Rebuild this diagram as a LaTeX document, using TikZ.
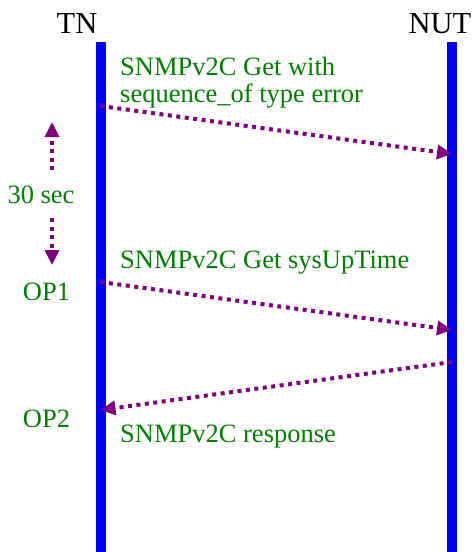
\documentclass[tikz,border=0pt]{standalone}
\usepackage{fontspec}
\setmainfont{Liberation Serif}
\usetikzlibrary{arrows.meta}
\definecolor{msgpurple}{RGB}{128,0,128}
\definecolor{lblgreen}{RGB}{0,128,0}
\definecolor{lifeblue}{RGB}{0,0,255}
\tikzset{
  header/.style={inner sep=0pt, anchor=base, font=\fontsize{30.5}{36}\selectfont},
  lbl/.style={inner sep=0pt, text=lblgreen, font=\fontsize{26.5}{30}\selectfont},
  lifeline/.style={draw=lifeblue, line width=10pt},
  msg/.style={draw=msgpurple, line width=4pt, dash pattern=on 4pt off 4.5pt,
    -{Triangle[length=15pt,width=14pt,fill=msgpurple]}},
  waitarrow/.style={draw=msgpurple, line width=4pt, dash pattern=on 4pt off 4.5pt,
    -{Triangle[length=15pt,width=14pt,fill=msgpurple]}}
}
\begin{document}
\begin{tikzpicture}[x=1pt,y=-1pt]
\useasboundingbox (0,0) rectangle (473,552);

% participants
\node[header] (tn) at (77,33) {TN};
\node[header] (nut) at (440,33) {NUT};

% lifelines
\coordinate (tntop) at (100.5,42);
\coordinate (tnbot) at (100.5,552);
\coordinate (nuttop) at (452,42);
\coordinate (nutbot) at (452,552);
\draw[lifeline] (tntop) -- (tnbot);
\draw[lifeline] (nuttop) -- (nutbot);

% message end points on the lifelines
\coordinate (m1s) at (100.5,106);
\coordinate (m1e) at (452,154);
\coordinate (m2s) at (100.5,282);
\coordinate (m2e) at (452,330);
\coordinate (m3s) at (452,362);
\coordinate (m3e) at (100.5,410);

% messages
\draw[msg] (m1s) -- (m1e);
\draw[msg] (m2s) -- (m2e);
\draw[msg] (m3s) -- (m3e);

% message labels
\node[lbl, anchor=base west] (l1a) at (120,75) {SNMPv2C Get with};
\node[lbl, anchor=base west] (l1b) at (120,102) {sequence\_of type error};
\node[lbl, anchor=base west] (l2) at (120,268) {SNMPv2C Get sysUpTime};
\node[lbl, anchor=base west] (l3) at (120,442) {SNMPv2C response};

% waiting time between the two requests
\node[lbl, anchor=base] (wait) at (41,203) {30 sec};
\coordinate (waitup) at (52,122);
\coordinate (waitupst) at (52,170);
\coordinate (waitdnst) at (52,218);
\coordinate (waitdn) at (52,265);
\draw[waitarrow] (waitupst) -- (waitup);
\draw[waitarrow] (waitdnst) -- (waitdn);

% observation points
\node[lbl, anchor=base] (op1) at (46.5,300) {OP1};
\node[lbl, anchor=base] (op2) at (46.5,427) {OP2};
\end{tikzpicture}
\end{document}
